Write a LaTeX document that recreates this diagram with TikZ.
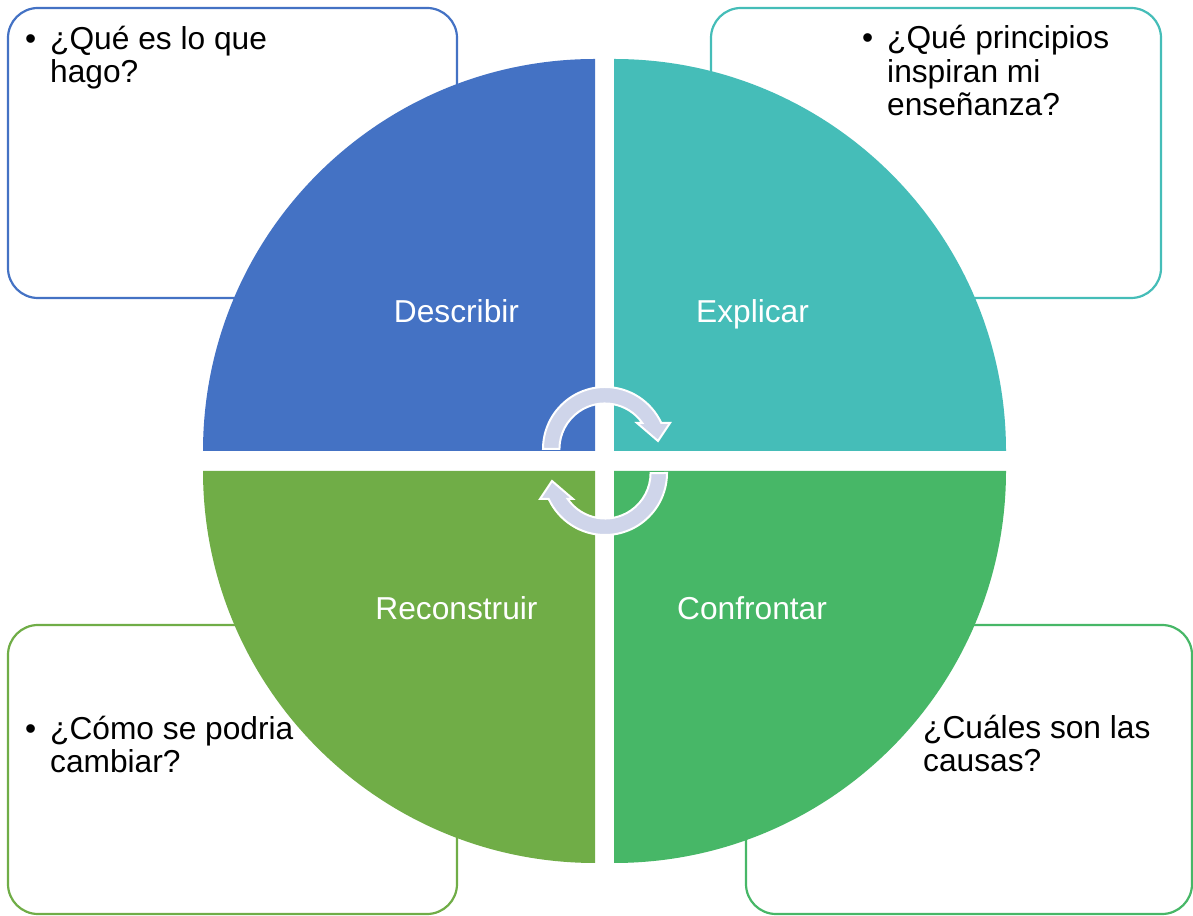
\documentclass[tikz,border=0pt]{standalone}
\usepackage{fontspec}
\setmainfont{Liberation Sans}

\definecolor{qblue}{HTML}{4472C4}
\definecolor{qteal}{HTML}{45BDB8}
\definecolor{qgreen}{HTML}{70AD47}
\definecolor{qgreenb}{HTML}{47B767}
\definecolor{qarrow}{HTML}{CFD5EA}

\begin{document}
\begin{tikzpicture}[x=1pt,y=1pt,
  qbox/.style={draw=#1, line width=2.2pt, rounded corners=30pt, fill=white},
  qtext/.style={anchor=base west, align=left, inner sep=0pt, font=\fontsize{31.7}{33.5}\selectfont},
  qlabel/.style={anchor=base, inner sep=0pt, text=white, font=\fontsize{31.7}{34}\selectfont},
  cyclearrow/.style={fill=qarrow, draw=white, line width=2pt}]
\useasboundingbox (0,0) rectangle (1193,915);
% boxes
\draw[qbox=qblue] (8,617) rectangle (457,907);
\draw[qbox=qteal] (711,617) rectangle (1161,907);
\draw[qbox=qgreen] (8,1) rectangle (457,290);
\draw[qbox=qgreenb] (746,1) rectangle (1192,290);
% quadrants
\fill[qblue] (595,464) -- (203,464) arc[start angle=180, end angle=90, radius=392] -- cycle;
\fill[qteal] (614,464) -- (614,856) arc[start angle=90, end angle=0, radius=392] -- cycle;
\fill[qgreen] (595,444) -- (595,52) arc[start angle=270, end angle=180, radius=392] -- cycle;
\fill[qgreenb] (614,444) -- (1006,444) arc[start angle=0, end angle=-90, radius=392] -- cycle;
\node[qlabel] (describir) at (456.5,592) {Describir};
\node[qlabel] (explicar) at (752.5,592) {Explicar};
\node[qlabel] (reconstruir) at (456.5,295) {Reconstruir};
\node[qlabel] (confrontar) at (752,295) {Confrontar};
% cycle arrows
\foreach \r in {0,180}
  \filldraw[cyclearrow, rotate around={\r:(605,454)}] (543,466)
    arc[start angle=180, end angle=24.8, radius=62] -- (670,492) -- (658,474)
    -- (637,492) -- (642.3,492) arc[start angle=34.8, end angle=180, radius=45.5] -- cycle;
% questions (anchored at the last line)
\node[qtext] (hago) at (50,832) {\llap{\textbullet\hspace{14pt}}¿Qué es lo que\\hago?};
\node[qtext] (principios) at (887,799) {\llap{\textbullet\hspace{14pt}}¿Qué principios\\inspiran mi\\enseñanza?};
\node[qtext] (causas) at (923,143) {¿Cuáles son las\\causas?};
\node[qtext] (cambiar) at (50,142) {\llap{\textbullet\hspace{14pt}}¿Cómo se podria\\cambiar?};
\end{tikzpicture}
\end{document}
